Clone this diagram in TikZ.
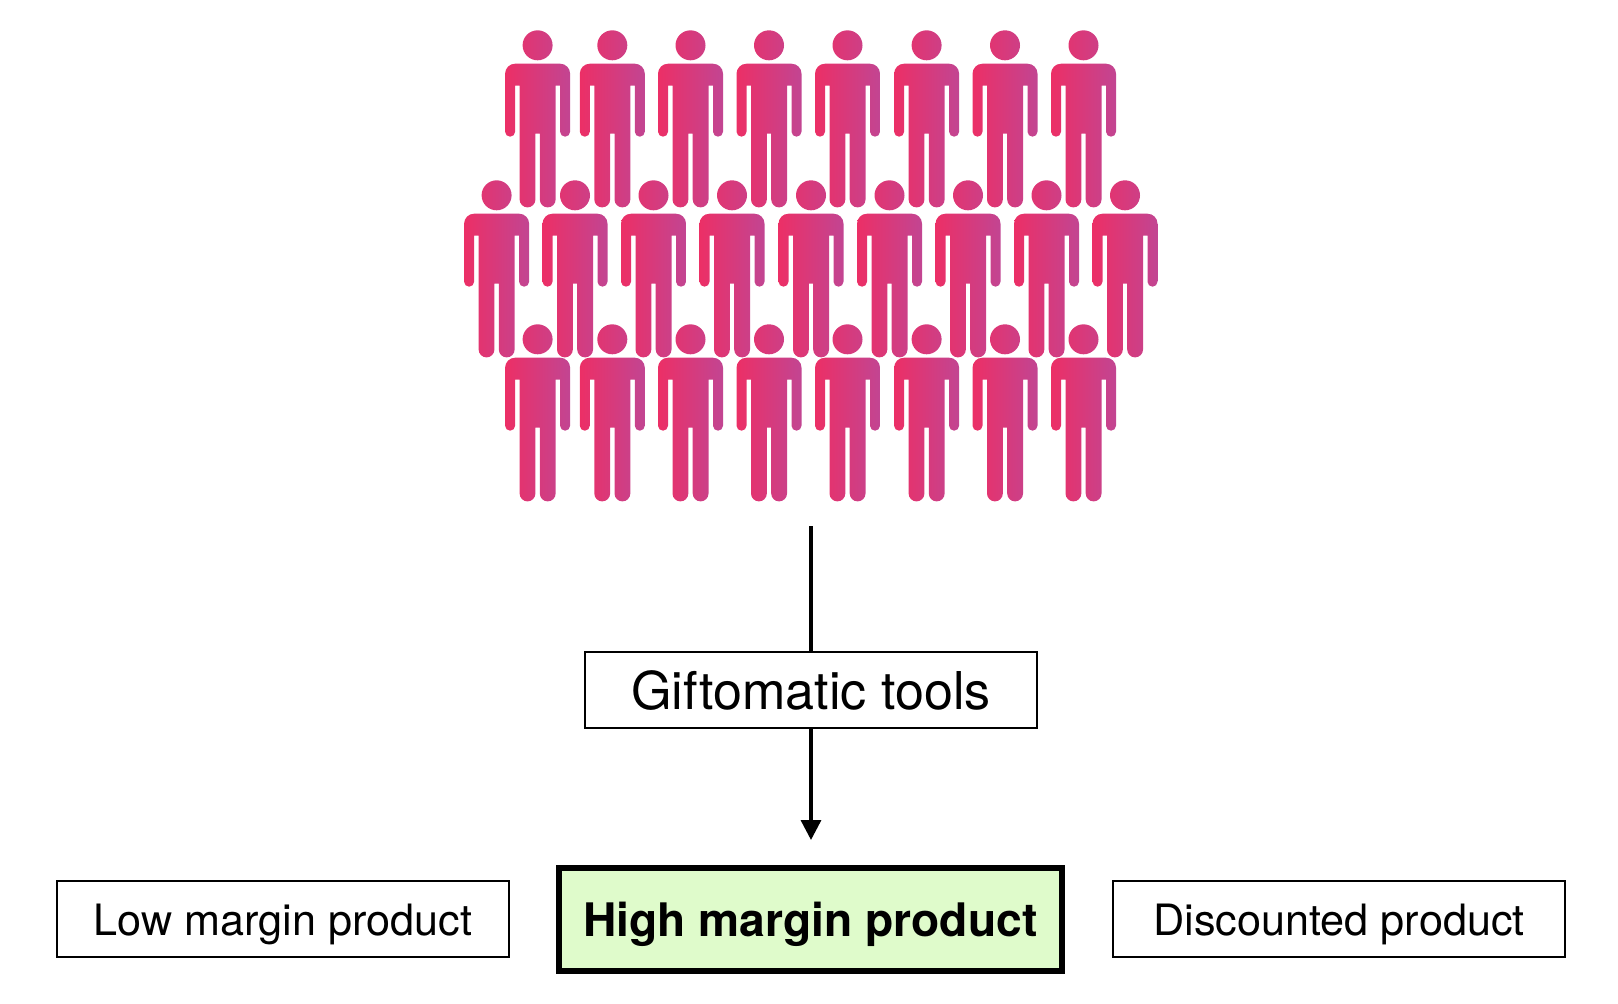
\documentclass[tikz,border=0pt]{standalone}
\usepackage{fontspec}
\setmainfont{TeX Gyre Heros}
\usetikzlibrary{arrows.meta}
\definecolor{personred}{HTML}{EC2F66}
\definecolor{personpurple}{HTML}{C24592}
\definecolor{highgreen}{HTML}{DFFBCB}
\tikzset{
  person/.pic={
    \path[left color=personred, right color=personpurple, shading angle=90]
      (0,0) circle[radius=15]
      (-32.5,-28.4) arc[start angle=180, end angle=90, radius=10] -- (22.5,-18.4)
      arc[start angle=90, end angle=0, radius=10] -- (32.5,-86.4)
      arc[start angle=0, end angle=-180, radius=5] -- (22.5,-40.4) -- (18,-40.4) -- (18,-154.2)
      arc[start angle=0, end angle=-180, radius=7.9] -- (2.2,-88.4) -- (-2.2,-88.4) -- (-2.2,-154.2)
      arc[start angle=0, end angle=-180, radius=7.9] -- (-18,-40.4) -- (-22.5,-40.4) -- (-22.5,-86.4)
      arc[start angle=0, end angle=-180, radius=5] -- cycle;
  },
  productbox/.style={draw, line width=2pt, minimum width=452.6pt, minimum height=76pt, inner sep=0pt, text height=32.6pt, text depth=0pt, font=\fontsize{43.2}{50}\selectfont},
  highbox/.style={draw, line width=6pt, fill=highgreen, minimum width=503pt, minimum height=103.5pt, inner sep=0pt, text height=33.6pt, text depth=0pt, font=\fontsize{46.2}{54}\bfseries\selectfont},
  giftbox/.style={productbox, text height=38pt, font=\fontsize{52.1}{60}\selectfont},
  flow/.style={line width=3.4pt},
}
\begin{document}
\begin{tikzpicture}[x=1pt, y=1pt]
\useasboundingbox (0,0) rectangle (1618,-1004);

% Draw the crowd, three rows of people
\foreach \px in {537.6, 612.3, 690.5, 769, 847.5, 926.6, 1005, 1083.5} {
  \pic at (\px,-45.3) {person};
  \pic at (\px,-339.3) {person};
}
\foreach \px in {496.6, 575, 653.5, 732, 811, 889.5, 968, 1046.5, 1125} {
  \pic at (\px,-195.3) {person};
}

% Draw the boxes
\node[giftbox] (gift) at (811, -690) {Giftomatic tools};
\node[productbox] (low) at (283, -918.8) {Low margin product};
\node[highbox] (high) at (810.3, -919.5) {High margin product};
\node[productbox] (discount) at (1339, -918.8) {Discounted product};

% Draw the connectors
\coordinate (crowd) at (811, -526);
\coordinate (tip) at (811, -840);
\draw[flow] (crowd) -- (gift.north);
\draw[flow, -{Triangle[width=20pt, length=20pt]}] (gift.south) -- (tip);
\end{tikzpicture}
\end{document}
